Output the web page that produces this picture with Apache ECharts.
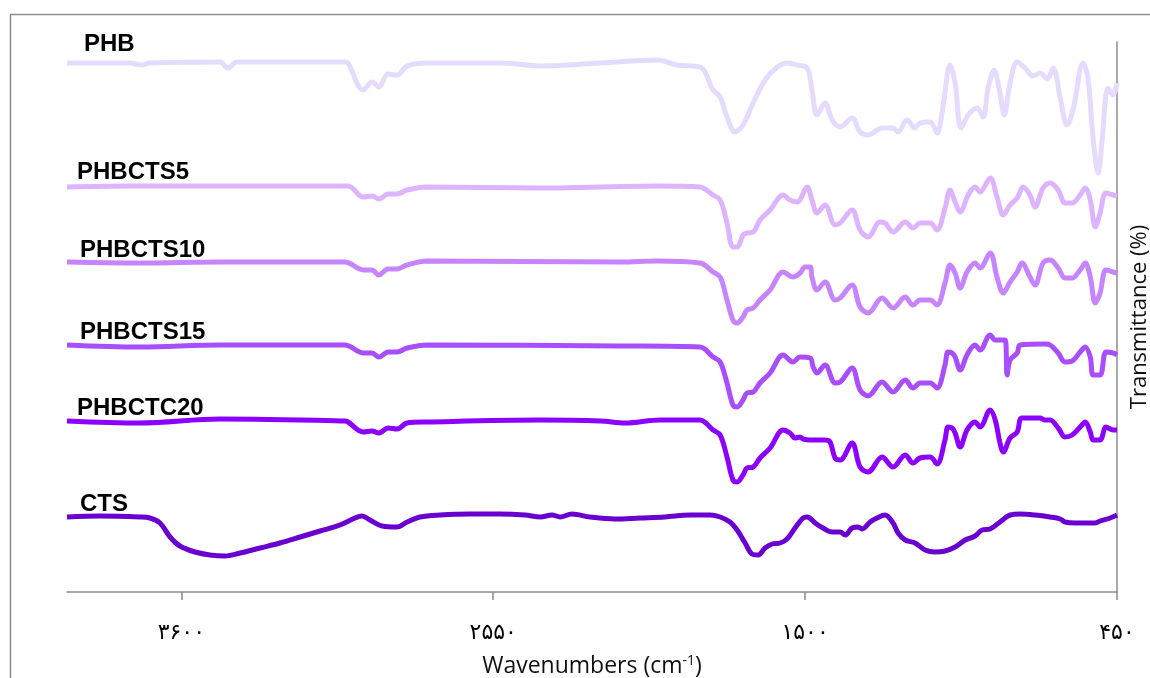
<!DOCTYPE html>
<html>
<head>
<meta charset="utf-8">
<script src="https://cdn.jsdelivr.net/npm/echarts@6/dist/echarts.min.js"></script>
<style>
  html, body { margin: 0; padding: 0; background: #fff; }
  #chart { width: 1150px; height: 678px; }
</style>
</head>
<body>
<div id="chart"></div>
<script>
// wavenumber (cm-1), offset transmittance (arbitrary units, stacked)
var seriesNames = ['PHB', 'PHBCTS5', 'PHBCTS10', 'PHBCTS15', 'PHBCTC20', 'CTS']
var seriesColors = ['#E5DBFF', '#DDB4FF', '#C684FF', '#A84EFF', '#8B00FF', '#6A00D0']

var tickValues = [3600, 2550, 1500, 450]
var tickLabels = ['۳۶۰۰', '۲۵۵۰', '۱۵۰۰', '۴۵۰']

var phb = [
  [3985, 529], [3773, 529], [3736, 527], [3706, 529], [3470, 530], [3443, 524], [3413, 530],
  [3200, 530], [3049, 530], [3039, 529], [2988, 502], [2958, 510], [2935, 505], [2904, 518],
  [2874, 517], [2840, 526], [2773, 529], [2527, 529], [2382, 526], [2190, 529], [1998, 532],
  [1931, 527], [1854, 525], [1810, 502], [1786, 495], [1763, 475], [1736, 460], [1709, 467],
  [1675, 489], [1635, 512], [1594, 525], [1561, 529], [1527, 527], [1493, 524], [1477, 502],
  [1460, 477], [1433, 489], [1409, 472], [1382, 465], [1342, 474], [1315, 460], [1288, 457],
  [1241, 464], [1204, 464], [1187, 460], [1157, 472], [1130, 464], [1113, 469], [1079, 470],
  [1056, 459], [1036, 485], [1012, 527], [995, 509], [975, 464], [951, 477], [921, 484],
  [901, 475], [884, 504], [864, 522], [844, 499], [830, 477], [810, 509], [786, 530],
  [759, 524], [733, 516], [709, 519], [685, 513], [665, 524], [641, 494], [618, 467],
  [598, 482], [564, 529], [547, 512], [530, 452], [513, 419], [500, 452], [480, 504],
  [463, 497], [450, 509]
]
var phbcts5 = [
  [3985, 405], [3773, 406], [3470, 406], [3200, 406], [3039, 406], [2988, 395], [2958, 396],
  [2935, 393], [2904, 398], [2874, 398], [2840, 402], [2773, 405], [2392, 404], [2190, 405],
  [1998, 406], [1854, 405], [1810, 397], [1786, 392], [1763, 369], [1743, 345], [1729, 345],
  [1709, 357], [1696, 359], [1675, 360], [1652, 372], [1618, 382], [1574, 397], [1551, 392],
  [1527, 390], [1493, 405], [1477, 392], [1460, 379], [1433, 387], [1399, 367], [1382, 369],
  [1342, 382], [1315, 362], [1288, 355], [1248, 370], [1231, 369], [1204, 360], [1163, 370],
  [1137, 364], [1113, 369], [1079, 369], [1056, 362], [1029, 384], [1012, 402], [995, 390],
  [978, 380], [951, 397], [928, 405], [911, 400], [877, 414], [854, 395], [833, 377],
  [810, 387], [786, 394], [766, 405], [743, 397], [726, 385], [699, 404], [675, 409],
  [648, 402], [625, 389], [601, 389], [574, 397], [557, 404], [540, 392], [523, 365],
  [507, 379], [487, 399], [463, 397], [450, 396]
]
var phbcts10 = [
  [3985, 330], [3739, 329], [3470, 330], [3049, 330], [2988, 322], [2958, 322], [2935, 317],
  [2904, 323], [2874, 323], [2840, 327], [2773, 331], [2123, 330], [1998, 331], [1854, 329],
  [1810, 320], [1786, 315], [1763, 292], [1743, 272], [1729, 269], [1709, 275], [1696, 282],
  [1675, 284], [1652, 292], [1618, 302], [1574, 320], [1541, 315], [1517, 319], [1500, 325],
  [1483, 325], [1477, 315], [1460, 302], [1433, 310], [1399, 292], [1382, 294], [1342, 307],
  [1315, 285], [1288, 279], [1241, 294], [1204, 284], [1163, 295], [1137, 287], [1113, 292],
  [1079, 292], [1056, 287], [1029, 309], [1012, 327], [995, 319], [978, 304], [955, 320],
  [928, 329], [911, 324], [877, 339], [854, 315], [833, 299], [810, 310], [786, 320],
  [770, 329], [743, 315], [726, 307], [699, 329], [675, 332], [648, 324], [625, 314],
  [601, 314], [574, 322], [557, 329], [540, 315], [523, 289], [507, 299], [487, 322],
  [463, 320], [450, 319]
]
var phbcts15 = [
  [3985, 247], [3739, 245], [3470, 247], [3049, 247], [2988, 239], [2958, 239], [2935, 235],
  [2904, 240], [2874, 240], [2840, 244], [2773, 247], [2123, 246], [1854, 245], [1810, 235],
  [1786, 230], [1763, 209], [1743, 187], [1729, 185], [1709, 192], [1696, 199], [1675, 200],
  [1652, 209], [1618, 219], [1574, 237], [1541, 230], [1517, 235], [1483, 234], [1473, 225],
  [1460, 219], [1433, 227], [1399, 209], [1382, 210], [1342, 224], [1315, 202], [1288, 196],
  [1241, 210], [1204, 200], [1163, 212], [1137, 204], [1113, 209], [1079, 209], [1056, 204],
  [1029, 227], [1019, 240], [1005, 239], [995, 235], [978, 222], [955, 237], [928, 247],
  [911, 242], [877, 257], [860, 252], [827, 252], [820, 217], [810, 232], [786, 239],
  [776, 247], [692, 248], [675, 247], [648, 239], [625, 230], [601, 231], [574, 240],
  [557, 245], [540, 235], [530, 217], [507, 217], [487, 240], [463, 239], [450, 237]
]
var phbctc20 = [
  [3985, 171], [3739, 169], [3470, 173], [3049, 171], [3039, 170], [2988, 160], [2958, 161],
  [2935, 159], [2904, 164], [2874, 163], [2840, 169], [2773, 170], [2392, 172], [2190, 171],
  [2106, 169], [1988, 172], [1854, 172], [1810, 162], [1786, 157], [1763, 135], [1743, 112],
  [1729, 110], [1709, 117], [1696, 124], [1675, 125], [1652, 134], [1618, 144], [1574, 162],
  [1551, 159], [1534, 154], [1517, 155], [1507, 153], [1483, 152], [1433, 152], [1416, 150],
  [1399, 134], [1382, 132], [1342, 149], [1315, 125], [1288, 120], [1241, 135], [1204, 125],
  [1163, 137], [1137, 129], [1113, 134], [1079, 135], [1056, 128], [1029, 152], [1019, 165],
  [1005, 164], [995, 159], [978, 145], [955, 162], [928, 170], [911, 165], [877, 182],
  [860, 172], [844, 149], [833, 140], [810, 154], [786, 160], [770, 174], [709, 174],
  [692, 172], [675, 172], [648, 164], [625, 155], [601, 157], [574, 165], [557, 170],
  [540, 160], [530, 152], [507, 152], [487, 165], [463, 162], [450, 162]
]
var cts = [
  [3985, 75], [3874, 76], [3739, 75], [3706, 74], [3672, 69], [3638, 55], [3605, 46],
  [3554, 40], [3504, 37], [3453, 36], [3402, 39], [3335, 44], [3268, 49], [3200, 55],
  [3133, 61], [3066, 67], [3015, 74], [2992, 76], [2965, 72], [2924, 66], [2874, 65],
  [2840, 70], [2796, 75], [2729, 77], [2628, 78], [2527, 78], [2443, 77], [2392, 75],
  [2352, 77], [2325, 75], [2285, 78], [2224, 75], [2140, 73], [2056, 74], [1972, 75],
  [1887, 77], [1820, 77], [1786, 75], [1753, 70], [1729, 62], [1702, 49], [1679, 38],
  [1658, 37], [1635, 44], [1611, 48], [1584, 49], [1561, 53], [1534, 64], [1507, 74],
  [1493, 75], [1466, 69], [1440, 64], [1409, 60], [1382, 60], [1365, 57], [1342, 64],
  [1322, 65], [1308, 63], [1281, 70], [1258, 74], [1231, 77], [1204, 69], [1187, 59],
  [1163, 52], [1130, 49], [1096, 42], [1062, 40], [1029, 41], [995, 45], [961, 52],
  [928, 56], [904, 62], [877, 63], [844, 70], [810, 77], [776, 78], [726, 77],
  [675, 75], [641, 73], [625, 70], [591, 69], [557, 69], [523, 69], [507, 71],
  [473, 74], [450, 77]
]

var allData = [phb, phbcts5, phbcts10, phbcts15, phbctc20, cts]
var labelY = [44, 172, 250, 332, 408, 504]
var labelX = [84, 77, 80, 80, 77, 80]

var chart = echarts.init(document.getElementById('chart'))

var series = allData.map(function (d, i) {
  return {
    name: seriesNames[i],
    type: 'line',
    data: d,
    smooth: 0.35,
    showSymbol: false,
    symbol: 'none',
    silent: true,
    lineStyle: { color: seriesColors[i], width: 5 },
    z: 3
  }
})

// series names written beside each trace
var graphics = [{
  type: 'rect',
  shape: { x: 10.5, y: 14.5, width: 1300, height: 900 },
  style: { fill: null, stroke: '#8c8c8c', lineWidth: 1.5 },
  silent: true
}]
seriesNames.forEach(function (n, i) {
  graphics.push({
    type: 'text',
    x: labelX[i],
    y: labelY[i],
    style: {
      text: n,
      fill: '#000',
      font: 'bold 24px "Liberation Sans", sans-serif',
      verticalAlign: 'middle'
    },
    silent: true
  })
})

chart.setOption({
  animation: false,
  grid: { left: 67, right: 33, top: 42, bottom: 86, containLabel: false, outerBoundsMode: 'none' },
  xAxis: {
    type: 'value',
    inverse: true,
    min: 450,
    max: 3985,
    interval: 1050,
    name: '{a|Wavenumbers (cm}{s|-1}{a|)}',
    nameLocation: 'middle',
    nameGap: 62,
    nameTextStyle: {
      rich: {
        a: { fontFamily: 'Open Sans', fontSize: 23, color: '#111' },
        s: { fontFamily: 'Open Sans', fontSize: 14, color: '#111', verticalAlign: 'top', padding: [0, 0, 10, 0] }
      }
    },
    axisLine: { show: true, onZero: false, lineStyle: { color: '#8c8c8c', width: 1.5 } },
    axisTick: { show: true, length: 8, customValues: tickValues, lineStyle: { color: '#8c8c8c', width: 1.5 } },
    axisLabel: {
      customValues: tickValues,
      margin: 30,
      fontFamily: 'DejaVu Sans',
      fontSize: 22,
      color: '#000',
      formatter: function (v) {
        var k = tickValues.indexOf(v)
        return k >= 0 ? tickLabels[k] : ''
      }
    },
    splitLine: { show: false }
  },
  yAxis: {
    type: 'value',
    position: 'right',
    min: 0,
    max: 550,
    name: 'Transmittance (%)',
    nameLocation: 'middle',
    nameRotate: 90,
    nameGap: 12,
    nameTextStyle: { fontFamily: 'Open Sans', fontSize: 22, color: '#111' },
    axisLine: { show: true, onZero: false, lineStyle: { color: '#8c8c8c', width: 1.5 } },
    axisTick: { show: false },
    axisLabel: { show: false },
    splitLine: { show: false }
  },
  graphic: graphics,
  series: series
})
</script>
</body>
</html>
